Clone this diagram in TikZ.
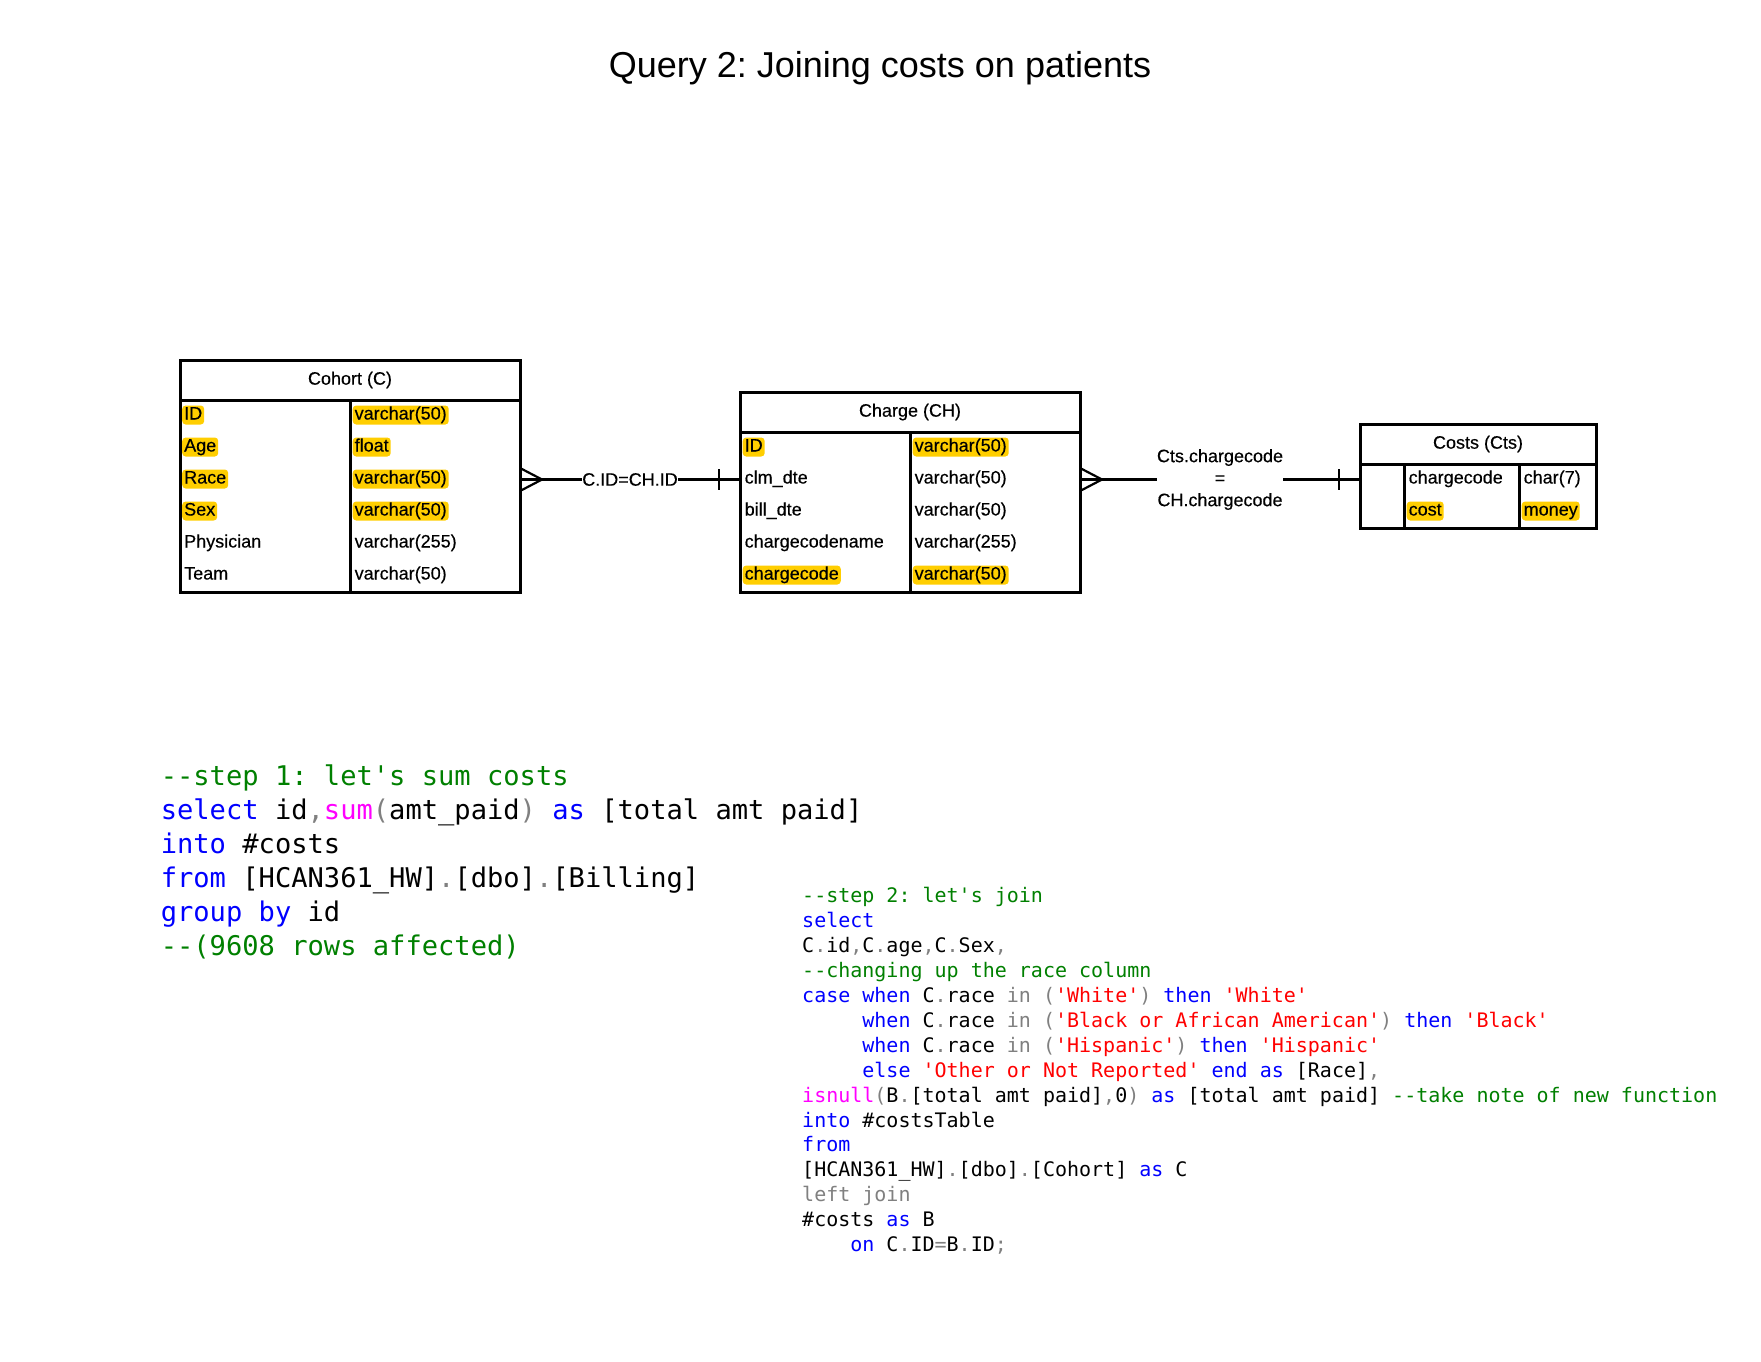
\documentclass[tikz,border=0pt]{standalone}
\usepackage{fontspec}
\setmainfont{Liberation Sans}
\setmonofont{DejaVu Sans Mono}
\newfontfamily\tblface[FakeBold=0.35]{Liberation Sans}
\usetikzlibrary{calc}
\definecolor{hl}{RGB}{255,206,0}
\definecolor{sqlgreen}{RGB}{0,128,0}
\definecolor{sqlblue}{RGB}{0,0,255}
\definecolor{sqlmag}{RGB}{255,0,255}
\definecolor{sqlred}{RGB}{255,0,0}
\definecolor{sqlgray}{RGB}{128,128,128}
\newcommand\sqlkw[1]{\textcolor{sqlblue}{#1}}
\newcommand\sqlcm[1]{\textcolor{sqlgreen}{#1}}
\newcommand\sqlfn[1]{\textcolor{sqlmag}{#1}}
\newcommand\sqlst[1]{\textcolor{sqlred}{#1}}
\newcommand\sqlop[1]{\textcolor{sqlgray}{#1}}
\newcommand\sqlind[1]{\phantom{#1}}
\newcommand\tblfont{\tblface\fontsize{18}{22}\selectfont}
\frenchspacing
\begin{document}
\begin{tikzpicture}[x=1pt,y=-1pt,
  tblbox/.style={draw, line width=3pt, inner sep=0pt, outer sep=0pt, anchor=north west, font=\tblfont},
  tblline/.style={line width=3pt},
  cell/.style={anchor=west, font=\tblfont, inner xsep=2pt, inner ysep=1pt, text height=13pt, text depth=4pt},
  hlcell/.style={cell, fill=hl, rounded corners=3.5pt},
  conn/.style={line width=2.2pt},
  joinlbl/.style={fill=white, inner xsep=0pt, inner ysep=1pt, font=\tblfont, align=center},
  codeA/.style={anchor=base west, inner sep=0pt, font=\fontsize{27.1}{34}\selectfont\ttfamily},
  codeB/.style={anchor=base west, inner sep=0pt, font=\fontsize{20}{25}\selectfont\ttfamily}
]
\useasboundingbox[fill=white] (0,0) rectangle (1761,1361);

% title
\node[font=\fontsize{36}{43}\selectfont] (title) at (880,68) {Query 2: Joining costs on patients};

% ---- Cohort table ----
\node[tblbox, minimum width=340pt, minimum height=40pt] (cohortHead) at (180,360) {Cohort (C)};
\node[tblbox, minimum width=340pt, minimum height=192pt] (cohortBody) at (180,400) {};
\draw[tblline] ($(cohortBody.north west)+(170,0)$) -- ($(cohortBody.south west)+(170,0)$);
\node[hlcell] (cId)   at (182,415) {ID};
\node[hlcell] (cAge)  at (182,447) {Age};
\node[hlcell] (cRace) at (182,479) {Race};
\node[hlcell] (cSex)  at (182,511) {Sex};
\node[cell]   (cPhys) at (182,543) {Physician};
\node[cell]   (cTeam) at (182,575) {Team};
\node[hlcell] (cIdT)   at (352.5,415) {varchar(50)};
\node[hlcell] (cAgeT)  at (352.5,447) {float};
\node[hlcell] (cRaceT) at (352.5,479) {varchar(50)};
\node[hlcell] (cSexT)  at (352.5,511) {varchar(50)};
\node[cell]   (cPhysT) at (352.5,543) {varchar(255)};
\node[cell]   (cTeamT) at (352.5,575) {varchar(50)};

% ---- Charge table ----
\node[tblbox, minimum width=340pt, minimum height=40pt] (chargeHead) at (740,392) {Charge (CH)};
\node[tblbox, minimum width=340pt, minimum height=160pt] (chargeBody) at (740,432) {};
\draw[tblline] ($(chargeBody.north west)+(170,0)$) -- ($(chargeBody.south west)+(170,0)$);
\node[hlcell] (chId)   at (742.5,447) {ID};
\node[cell]   (chClm)  at (742.5,479) {clm\_dte};
\node[cell]   (chBill) at (742.5,511) {bill\_dte};
\node[cell]   (chName) at (742.5,543) {chargecodename};
\node[hlcell] (chCode) at (742.5,575) {chargecode};
\node[hlcell] (chIdT)   at (912.5,447) {varchar(50)};
\node[cell]   (chClmT)  at (912.5,479) {varchar(50)};
\node[cell]   (chBillT) at (912.5,511) {varchar(50)};
\node[cell]   (chNameT) at (912.5,543) {varchar(255)};
\node[hlcell] (chCodeT) at (912.5,575) {varchar(50)};

% ---- Costs table ----
\node[tblbox, minimum width=236pt, minimum height=40pt] (costsHead) at (1360,424) {Costs (Cts)};
\node[tblbox, minimum width=236pt, minimum height=64pt] (costsBody) at (1360,464) {};
\draw[tblline] ($(costsBody.north west)+(44,0)$) -- ($(costsBody.south west)+(44,0)$);
\draw[tblline] ($(costsBody.north west)+(159,0)$) -- ($(costsBody.south west)+(159,0)$);
\node[cell]   (ctsCode)  at (1406.5,479) {chargecode};
\node[hlcell] (ctsCost)  at (1406.5,511) {cost};
\node[cell]   (ctsCodeT) at (1521.5,479) {char(7)};
\node[hlcell] (ctsCostT) at (1521.5,511) {money};

% ---- relationships ----
\coordinate (cohortPort) at (520,479.5);
\coordinate (chargeInPort) at (740,479.5);
\coordinate (chargePort) at (1080,479.5);
\coordinate (costsPort) at (1360,479.5);

\draw[conn] (cohortPort) -- node[joinlbl] (joinA) {C.ID=CH.ID} (chargeInPort);
\draw[conn] ($(cohortPort)+(0,-11.5)$) -- ($(cohortPort)+(22,0)$) -- ($(cohortPort)+(0,11.5)$);
\draw[conn] ($(chargeInPort)+(-21,-10.5)$) -- ($(chargeInPort)+(-21,10.5)$);

\draw[conn] (chargePort) -- node[joinlbl] (joinB) {Cts.chargecode\\=\\CH.chargecode} (costsPort);
\draw[conn] ($(chargePort)+(0,-11.5)$) -- ($(chargePort)+(22,0)$) -- ($(chargePort)+(0,11.5)$);
\draw[conn] ($(costsPort)+(-21,-10.5)$) -- ($(costsPort)+(-21,10.5)$);

% ---- step 1 query ----
\node[codeA] (qa1) at (160.6,785.0) {\sqlcm{--step 1: let's sum costs}};
\node[codeA] (qa2) at (160.6,819.2) {\sqlkw{select} id\sqlop{,}\sqlfn{sum}\sqlop{(}amt\_paid\sqlop{)} \sqlkw{as} [total amt paid]};
\node[codeA] (qa3) at (160.6,853.3) {\sqlkw{into} \#costs};
\node[codeA] (qa4) at (160.6,887.5) {\sqlkw{from} [HCAN361\_HW]\sqlop{.}[dbo]\sqlop{.}[Billing]};
\node[codeA] (qa5) at (160.6,921.6) {\sqlkw{group by} id};
\node[codeA] (qa6) at (160.6,955.8) {\sqlcm{--(9608 rows affected)}};

% ---- step 2 query ----
\node[codeB] (qb1)  at (802,902) {\sqlcm{--step 2: let's join}};
\node[codeB] (qb2)  at (802,927) {\sqlkw{select}};
\node[codeB] (qb3)  at (802,952) {C\sqlop{.}id\sqlop{,}C\sqlop{.}age\sqlop{,}C\sqlop{.}Sex\sqlop{,}};
\node[codeB] (qb4)  at (802,977) {\sqlcm{--changing up the race column}};
\node[codeB] (qb5)  at (802,1002) {\sqlkw{case} \sqlkw{when} C\sqlop{.}race \sqlop{in} \sqlop{(}\sqlst{'White'}\sqlop{)} \sqlkw{then} \sqlst{'White'}};
\node[codeB] (qb6)  at (802,1027) {\sqlind{xxxxx}\sqlkw{when} C\sqlop{.}race \sqlop{in} \sqlop{(}\sqlst{'Black or African American'}\sqlop{)} \sqlkw{then} \sqlst{'Black'}};
\node[codeB] (qb7)  at (802,1052) {\sqlind{xxxxx}\sqlkw{when} C\sqlop{.}race \sqlop{in} \sqlop{(}\sqlst{'Hispanic'}\sqlop{)} \sqlkw{then} \sqlst{'Hispanic'}};
\node[codeB] (qb8)  at (802,1077) {\sqlind{xxxxx}\sqlkw{else} \sqlst{'Other or Not Reported'} \sqlkw{end} \sqlkw{as} [Race]\sqlop{,}};
\node[codeB] (qb9)  at (802,1102) {\sqlfn{isnull}\sqlop{(}B\sqlop{.}[total amt paid]\sqlop{,}0\sqlop{)} \sqlkw{as} [total amt paid] \sqlcm{--take note of new function}};
\node[codeB] (qb10) at (802,1127) {\sqlkw{into} \#costsTable};
\node[codeB] (qb11) at (802,1151) {\sqlkw{from}};
\node[codeB] (qb12) at (802,1176) {[HCAN361\_HW]\sqlop{.}[dbo]\sqlop{.}[Cohort] \sqlkw{as} C};
\node[codeB] (qb13) at (802,1201) {\sqlop{left join}};
\node[codeB] (qb14) at (802,1226) {\#costs \sqlkw{as} B};
\node[codeB] (qb15) at (802,1251) {\sqlind{xxxx}\sqlkw{on} C\sqlop{.}ID\sqlop{=}B\sqlop{.}ID\sqlop{;}};
\end{tikzpicture}
\end{document}
